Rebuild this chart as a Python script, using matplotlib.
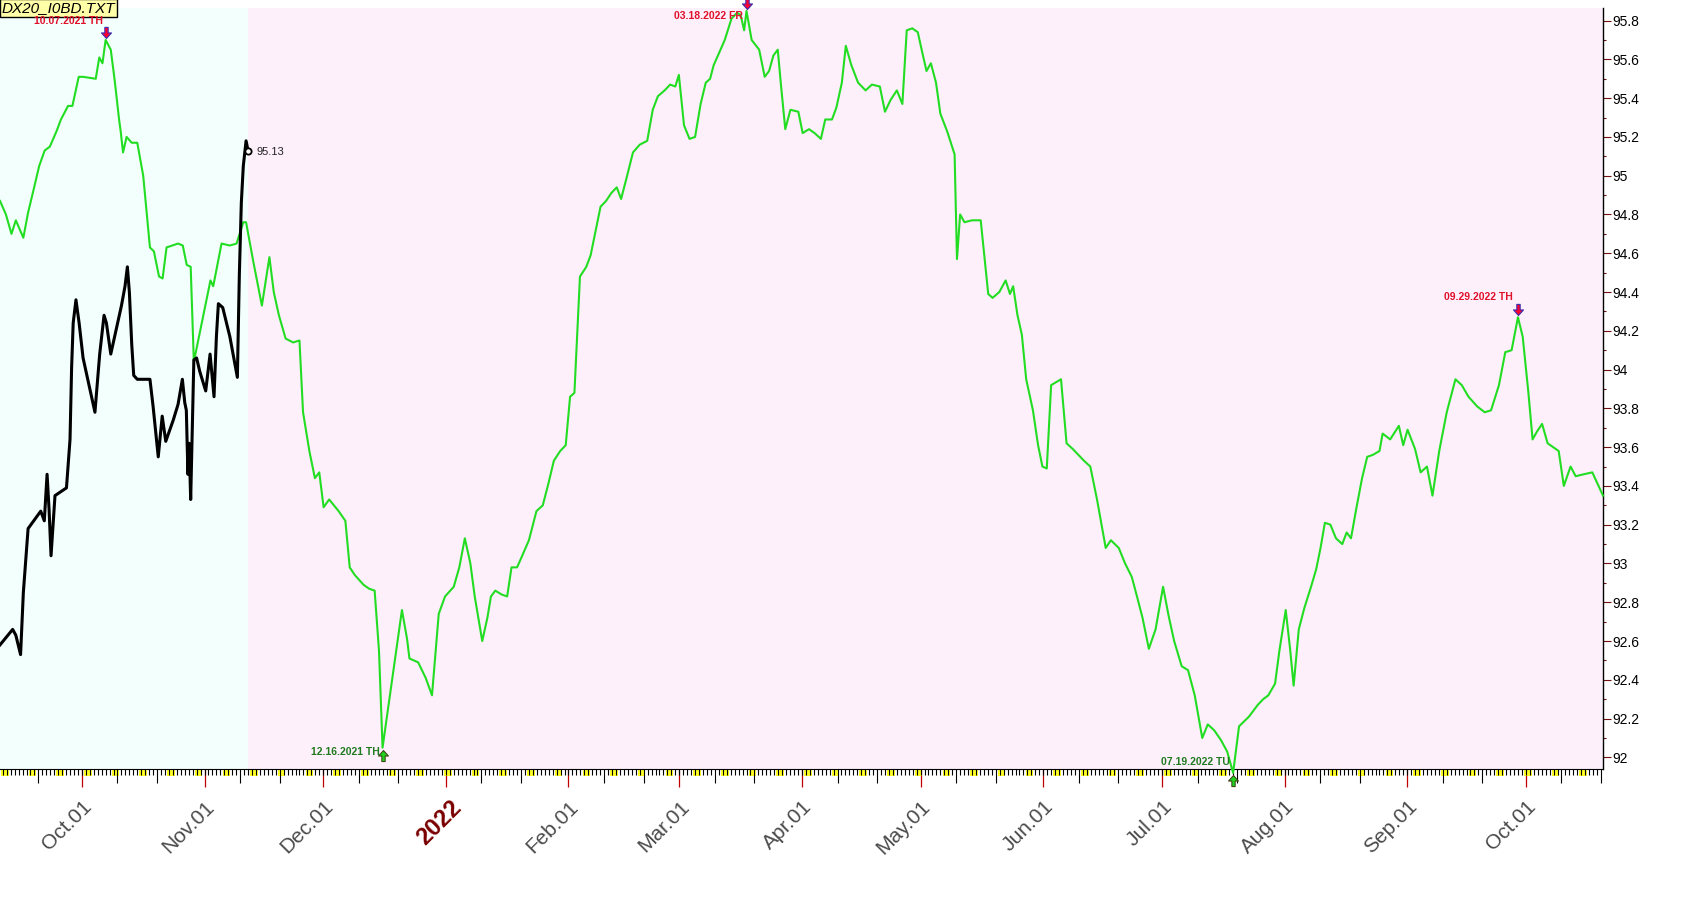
import numpy as np
import matplotlib
matplotlib.use("Agg")
import matplotlib.pyplot as plt
import matplotlib.dates as mdates
from matplotlib.path import Path
from matplotlib.patches import Rectangle
from matplotlib.ticker import MultipleLocator, FuncFormatter, NullFormatter
from matplotlib import transforms
from datetime import datetime, timedelta

plt.rcParams["font.family"] = ["Liberation Sans", "DejaVu Sans"]

START = datetime(2021, 10, 1)   # day offsets below count from here
X_FROM, X_TO = -20.7, 384.5
Y_FROM, Y_TO = 91.94, 95.865

# cycle projection (green), days since START / price
green_day = [-20.7, -19.2, -17.8, -16.7, -14.8, -13.6, -12.3, -10.8, -9.4, -8.1,
             -6.4, -5.3, -3.5, -2.4, -0.8, 0.3, 3.5, 4.4, 5.2, 6.0,
             7.3, 8.3, 9.4, 9.8, 10.4, 11.3, 12.6, 14.0, 15.5, 17.2,
             18.2, 19.5, 20.4, 21.4, 24.3, 25.5, 26.5, 27.5, 28.3, 30.7,
             32.5, 33.2, 35.3, 37.4, 39.1, 40.8, 41.5, 43.3, 45.5, 47.4,
             48.5, 49.8, 51.5, 53.4, 55.0, 55.9, 57.5, 58.9, 60.0, 61.1,
             62.5, 64.9, 66.6, 67.7, 69.0, 71.2, 72.6, 74.0, 75.1, 76.0,
             80.9, 82.2, 82.8, 85.0, 86.9, 88.5, 90.2, 91.8, 94.0, 95.4,
             96.8, 98.2, 99.3, 101.2, 102.5, 103.4, 104.5, 106.1, 107.5, 108.6,
             110.0, 111.3, 113.0, 114.9, 116.5, 117.9, 119.3, 120.9, 122.3, 123.4,
             124.5, 125.9, 127.5, 128.6, 130.0, 131.1, 132.5, 133.8, 135.2, 136.3,
             137.7, 139.3, 141.0, 142.9, 144.3, 145.6, 147.3, 148.7, 150.0, 150.9,
             152.2, 153.6, 155.0, 156.4, 157.7, 158.8, 159.7, 161.0, 162.5, 164.2,
             165.6, 166.5, 167.4, 168.0, 169.3, 171.2, 172.6, 173.7, 174.8, 175.9,
             176.7, 177.8, 179.1, 181.1, 182.2, 183.8, 185.2, 186.8, 187.9, 189.6,
             190.7, 192.1, 193.1, 194.5, 196.2, 198.1, 199.7, 201.7, 203.0, 204.4,
             206.0, 207.4, 208.5, 209.9, 211.3, 212.6, 213.5, 214.6, 215.9, 217.0,
             218.7, 220.6, 221.2, 222.0, 223.1, 225.0, 227.2, 229.1, 230.2, 231.9,
             233.5, 234.6, 235.4, 236.5, 237.6, 238.7, 240.4, 241.7, 242.8, 243.9,
             245.0, 247.5, 248.9, 250.5, 253.3, 254.9, 256.6, 258.8, 260.1, 262.1,
             263.7, 265.4, 266.7, 268.1, 269.7, 271.4, 273.3, 274.7, 276.1, 278.0,
             279.6, 281.3, 283.2, 284.6, 286.2, 287.9, 289.5, 291.0, 292.5, 295.0,
             297.2, 298.6, 299.9, 301.6, 302.7, 304.3, 305.4, 306.3, 307.6, 309.0,
             310.7, 312.0, 313.1, 314.2, 315.6, 317.0, 318.6, 319.7, 320.8, 322.2,
             323.6, 324.9, 326.3, 328.0, 328.8, 330.7, 332.9, 334.0, 335.1, 337.0,
             338.4, 340.0, 341.4, 343.1, 345.0, 347.2, 348.8, 350.5, 352.7, 354.6,
             356.2, 358.2, 359.8, 361.4, 363.0, 364.2, 365.6, 366.7, 367.8, 369.1,
             370.5, 373.3, 374.6, 376.3, 377.6, 379.6, 381.8, 384.5]
green_val = [94.87, 94.80, 94.70, 94.77, 94.68, 94.81, 94.92, 95.05, 95.13, 95.15,
             95.23, 95.29, 95.36, 95.36, 95.51, 95.51, 95.50, 95.61, 95.58, 95.70,
             95.65, 95.49, 95.29, 95.23, 95.12, 95.20, 95.17, 95.17, 95.00, 94.63,
             94.61, 94.48, 94.47, 94.63, 94.65, 94.64, 94.54, 94.53, 94.04, 94.28,
             94.46, 94.43, 94.65, 94.64, 94.65, 94.76, 94.76, 94.56, 94.33, 94.58,
             94.40, 94.28, 94.16, 94.14, 94.15, 93.78, 93.58, 93.44, 93.47, 93.29,
             93.33, 93.27, 93.22, 92.98, 92.94, 92.89, 92.87, 92.86, 92.55, 92.05,
             92.76, 92.61, 92.51, 92.49, 92.41, 92.32, 92.74, 92.83, 92.88, 92.98,
             93.13, 93.00, 92.83, 92.60, 92.72, 92.83, 92.86, 92.84, 92.83, 92.98,
             92.98, 93.04, 93.12, 93.27, 93.30, 93.41, 93.53, 93.58, 93.61, 93.86,
             93.88, 94.48, 94.53, 94.59, 94.73, 94.84, 94.87, 94.91, 94.94, 94.88,
             94.99, 95.12, 95.16, 95.18, 95.34, 95.41, 95.44, 95.47, 95.46, 95.52,
             95.26, 95.19, 95.20, 95.37, 95.48, 95.50, 95.57, 95.63, 95.70, 95.81,
             95.84, 95.83, 95.75, 95.85, 95.70, 95.65, 95.51, 95.54, 95.62, 95.65,
             95.47, 95.24, 95.34, 95.33, 95.22, 95.24, 95.22, 95.19, 95.29, 95.29,
             95.35, 95.48, 95.67, 95.57, 95.48, 95.44, 95.47, 95.46, 95.33, 95.39,
             95.44, 95.37, 95.75, 95.76, 95.74, 95.62, 95.54, 95.58, 95.48, 95.32,
             95.23, 95.11, 94.57, 94.80, 94.76, 94.77, 94.77, 94.39, 94.37, 94.40,
             94.46, 94.39, 94.43, 94.28, 94.18, 93.95, 93.79, 93.61, 93.50, 93.49,
             93.92, 93.95, 93.62, 93.59, 93.53, 93.50, 93.33, 93.08, 93.12, 93.08,
             93.00, 92.93, 92.83, 92.72, 92.56, 92.66, 92.88, 92.73, 92.60, 92.47,
             92.45, 92.32, 92.10, 92.17, 92.14, 92.09, 92.03, 91.92, 92.16, 92.21,
             92.27, 92.30, 92.32, 92.38, 92.55, 92.76, 92.56, 92.37, 92.66, 92.77,
             92.88, 92.97, 93.08, 93.21, 93.20, 93.13, 93.10, 93.16, 93.13, 93.29,
             93.44, 93.55, 93.56, 93.58, 93.67, 93.64, 93.71, 93.61, 93.69, 93.59,
             93.47, 93.50, 93.35, 93.58, 93.78, 93.95, 93.92, 93.86, 93.81, 93.78,
             93.79, 93.92, 94.09, 94.10, 94.27, 94.17, 93.89, 93.64, 93.68, 93.72,
             93.62, 93.58, 93.40, 93.50, 93.45, 93.46, 93.47, 93.35]

# actual price (black)
black_day = [-20.7, -17.5, -16.7, -15.5, -14.8, -13.6, -10.4, -9.5, -8.8, -8.3,
             -7.8, -6.8, -3.9, -3.0, -2.6, -2.2, -1.5, -0.7, 0.3, 3.3,
             4.5, 5.6, 6.2, 7.3, 10.0, 10.9, 11.5, 12.0, 12.6, 13.1,
             14.0, 17.2, 18.0, 19.3, 20.3, 21.2, 23.1, 24.3, 25.4, 26.0,
             26.4, 26.8, 27.1, 27.5, 28.3, 29.0, 29.8, 31.3, 32.4, 33.4,
             34.0, 34.5, 35.6, 37.4, 39.3, 39.8, 40.3, 40.8, 41.5, 42.0]
black_val = [92.58, 92.66, 92.63, 92.53, 92.85, 93.18, 93.27, 93.22, 93.46, 93.28,
             93.04, 93.35, 93.39, 93.64, 94.01, 94.24, 94.36, 94.24, 94.06, 93.78,
             94.08, 94.28, 94.24, 94.08, 94.33, 94.43, 94.53, 94.40, 94.13, 93.97,
             93.95, 93.95, 93.81, 93.55, 93.76, 93.63, 93.74, 93.82, 93.95, 93.83,
             93.79, 93.46, 93.62, 93.33, 94.05, 94.06, 93.99, 93.89, 94.08, 93.86,
             94.17, 94.34, 94.32, 94.17, 93.96, 94.49, 94.86, 95.05, 95.18, 95.13]

# turning points of the projection
turn_dates = ["2021-10-07", "2021-12-16", "2022-03-18", "2022-07-19", "2022-09-29"]
turn_labels = ["10.07.2021 TH", "12.16.2021 TH", "03.18.2022 FR", "07.19.2022 TU", "09.29.2022 TH"]
turn_vals = [95.70, 92.05, 95.85, 91.92, 94.27]
turn_kind = ["top", "bottom", "top", "bottom", "top"]

# label placement (pixels, relative to the turning point)
LABEL_SHIFT = {
    "10.07.2021 TH": (-3, 19),
    "12.16.2021 TH": (-3, -4),
    "03.18.2022 FR": (-4, -5),
    "07.19.2022 TU": (-3, 11),
    "09.29.2022 TH": (-5, 20),
}

W, H, DPI = 1703, 905, 100
PT = 72 / DPI

base = mdates.date2num(START)
gx = base + np.array(green_day)
bx = base + np.array(black_day)

fig = plt.figure(figsize=(W / DPI, H / DPI), dpi=DPI)
fig.patch.set_facecolor("white")
ax = fig.add_axes([0, 1 - 769 / H, 1603 / W, 761 / H])
ax.set_facecolor("#fdf0fb")
ax.axvspan(base + X_FROM, bx[-1], color="#f3fffd", zorder=0, lw=0)

ax.plot(gx, green_val, color="#22dd22", lw=1.5, zorder=3, clip_on=False)
ax.plot(bx, black_val, color="black", lw=2.2, zorder=4)
ax.plot(bx[-1], black_val[-1], "o", ms=4.5, mfc="white", mec="black", mew=1.3, zorder=5)
ax.annotate(f"{black_val[-1]:.2f}", (bx[-1], black_val[-1]), xytext=(6, -1),
            textcoords="offset points", fontsize=8, va="center", ha="left", color="#222222")

# arrow markers, tip at origin
down_arrow = Path([(0, 0), (0.45, 0.5), (0.15, 0.5), (0.15, 1.0), (-0.15, 1.0),
                   (-0.15, 0.5), (-0.45, 0.5), (0, 0)], closed=True)
up_arrow = Path([(0, 0), (0.45, -0.5), (0.15, -0.5), (0.15, -1.0), (-0.15, -1.0),
                 (-0.15, -0.5), (-0.45, -0.5), (0, 0)], closed=True)

for dt, lab, val, kind in zip(turn_dates, turn_labels, turn_vals, turn_kind):
    x = mdates.date2num(datetime.strptime(dt, "%Y-%m-%d"))
    if kind == "top":
        tr = transforms.offset_copy(ax.transData, fig=fig, y=2, units="dots")
        ax.plot(x, val, marker=down_arrow, ms=16, mfc="#ff0030", mec="#3d2db0",
                mew=0.8, transform=tr, clip_on=False, zorder=6)
        col = "#e0102a"
    else:
        tr = transforms.offset_copy(ax.transData, fig=fig, y=-2, units="dots")
        ax.plot(x, val, marker=up_arrow, ms=16, mfc="#1ed21e", mec="#3a3a10",
                mew=0.7, transform=tr, clip_on=False, zorder=6)
        col = "#1f7a1f"
    dx, dy = LABEL_SHIFT[lab]
    ax.annotate(lab, (x, val), xytext=(dx * PT, dy * PT), textcoords="offset points",
                ha="right", va="center", fontsize=7.5, fontweight="bold", color=col,
                annotation_clip=False, zorder=7)

ax.set_xlim(base + X_FROM, base + X_TO)
ax.set_ylim(Y_FROM, Y_TO)

# day ruler under the plot
ax.xaxis.set_minor_locator(mdates.DayLocator())
ax.xaxis.set_major_locator(mdates.DayLocator(bymonthday=[10, 20]))
ax.xaxis.set_major_formatter(NullFormatter())
ax.tick_params(axis="x", which="minor", length=6 * PT, width=0.8, color="black")
ax.tick_params(axis="x", which="major", length=14 * PT, width=0.8, color="black")

sec = ax.secondary_xaxis("bottom")
sec.xaxis.set_major_locator(mdates.MonthLocator())
sec.xaxis.set_major_formatter(NullFormatter())
sec.tick_params(length=18 * PT, width=0.9, color="#c00000")
sec.spines["bottom"].set_visible(False)

xtr = ax.get_xaxis_transform()
for i in range(int(np.floor(X_FROM)), int(np.ceil(X_TO)) + 1):
    day = START + timedelta(days=i)
    if day.weekday() == 5:
        ax.add_patch(Rectangle((base + i - 0.45, 0), 1.9, -7 / 761, transform=xtr,
                               facecolor="#ffff00", edgecolor="none", alpha=0.85,
                               clip_on=False, zorder=1))
    if day.day == 1:
        if day.month == 1:
            ax.annotate(day.strftime("%Y"), (base + i, 0), xycoords=xtr,
                        xytext=(9, -25), textcoords="offset points", rotation=45,
                        rotation_mode="anchor", ha="right", va="center",
                        fontsize=17, fontweight="bold", color="#7a0000")
        else:
            ax.annotate(day.strftime("%b.01"), (base + i, 0), xycoords=xtr,
                        xytext=(5, -25), textcoords="offset points", rotation=45,
                        rotation_mode="anchor", ha="right", va="center",
                        fontsize=15, color="#4a4a4a")

# price axis on the right
ax.yaxis.tick_right()
ax.yaxis.set_major_locator(MultipleLocator(0.2))
ax.yaxis.set_minor_locator(MultipleLocator(0.1))
ax.yaxis.set_major_formatter(FuncFormatter(lambda v, p: f"{round(v, 1):g}"))
ax.tick_params(axis="y", which="major", length=8 * PT, width=0.8, color="#701010",
               labelsize=10, pad=1)
ax.tick_params(axis="y", which="minor", length=3 * PT, width=0.8, color="#701010")

for side in ["left", "top"]:
    ax.spines[side].set_visible(False)
ax.spines["right"].set_color("black")
ax.spines["bottom"].set_color("black")
ax.spines["right"].set_linewidth(1)
ax.spines["bottom"].set_linewidth(0.8)

# file name box, under the turning-point labels
ax.text(2 / W, 1 - 1 / H, "DX20_I0BD.TXT", transform=fig.transFigure, fontsize=11,
        style="italic", ha="left", va="top", zorder=5, clip_on=False,
        bbox=dict(boxstyle="square,pad=0.1", facecolor="#ffffa8", edgecolor="black", lw=1))

fig.savefig("out.png", dpi=DPI)
